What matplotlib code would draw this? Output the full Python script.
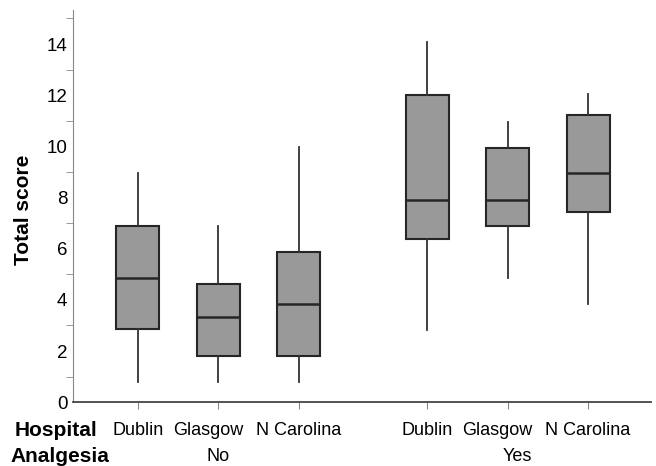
import matplotlib
matplotlib.use("Agg")
import matplotlib.pyplot as plt
import matplotlib.transforms as mtransforms
import numpy as np

plt.rcParams['font.family'] = ['Liberation Sans', 'DejaVu Sans']

# data
hospitals = ["Dublin", "Glasgow", "N Carolina", "Dublin", "Glasgow", "N Carolina"]
analgesia = ["No", "Yes"]
whis_lo = [0.77, 0.77, 0.77, 2.82, 4.84, 3.84]
q1 = [2.85, 1.81, 1.81, 6.39, 6.89, 7.42]
median = [4.87, 3.34, 3.85, 7.92, 7.92, 8.94]
q3 = [6.89, 4.61, 5.86, 12.02, 9.95, 11.21]
whis_hi = [8.95, 6.90, 9.97, 14.08, 10.97, 12.04]

# positions: 3 per group, wider gap between groups
positions = []
for g in range(len(analgesia)):
    for k in range(3):
        positions.append(1 + k + g * 3.6)

stats = []
for i in range(len(hospitals)):
    stats.append({'whislo': whis_lo[i], 'q1': q1[i], 'med': median[i],
                  'q3': q3[i], 'whishi': whis_hi[i], 'label': hospitals[i]})

fig = plt.figure(figsize=(6.56, 4.66), dpi=100)
ax = fig.add_axes([0.111, 0.137, 0.881, 0.842])

ax.bxp(stats, positions=positions, widths=0.535, showfliers=False,
       showcaps=False, patch_artist=True,
       boxprops=dict(facecolor='#999999', edgecolor='#262626', linewidth=1.5),
       medianprops=dict(color='#262626', linewidth=1.8),
       whiskerprops=dict(color='#333333', linewidth=1.3))

ax.set_xlim(0.19, 7.38)
ax.set_ylim(0, 15.34)

ax.set_xticks(positions)
ax.set_xticklabels(hospitals, fontsize=13)
ax.tick_params(axis='x', length=5, color='#888888', pad=9.5)

# the middle labels sit a little left of their ticks in the original
for lab in ax.get_xticklabels():
    if lab.get_text() == "Glasgow":
        lab.set_transform(lab.get_transform() +
                          mtransforms.ScaledTranslation(-0.1, 0, fig.dpi_scale_trans))

ax.set_yticks(np.arange(0, 15, 2))
ax.set_yticks(np.arange(1, 16, 2), minor=True)
ax.tick_params(axis='y', which='major', length=0, pad=4, labelsize=13.5)
ax.tick_params(axis='y', which='minor', length=5, color='#888888')

ax.spines['top'].set_visible(False)
ax.spines['right'].set_visible(False)
ax.spines['left'].set_color('#888888')
ax.spines['bottom'].set_color('#444444')
ax.spines['bottom'].set_linewidth(1.3)

ax.set_ylabel('Total score', fontsize=15, fontweight='bold')
ax.yaxis.set_label_coords(-0.069, 0.489)

trans = mtransforms.blended_transform_factory(ax.transData, fig.transFigure)
for g, name in enumerate(analgesia):
    centre = np.mean(positions[g * 3:(g + 1) * 3])
    if name == "Yes":
        centre += 0.12
    ax.text(centre, 1 - 456.7 / 466, name, transform=trans, fontsize=13,
            ha='center', va='center')

fig.text(15 / 656, 1 - 430.8 / 466, 'Hospital', fontsize=15,
         fontweight='bold', ha='left', va='center')
fig.text(10 / 656, 1 - 456.7 / 466, 'Analgesia', fontsize=15,
         fontweight='bold', ha='left', va='center')

fig.savefig('out.png', dpi=100)
